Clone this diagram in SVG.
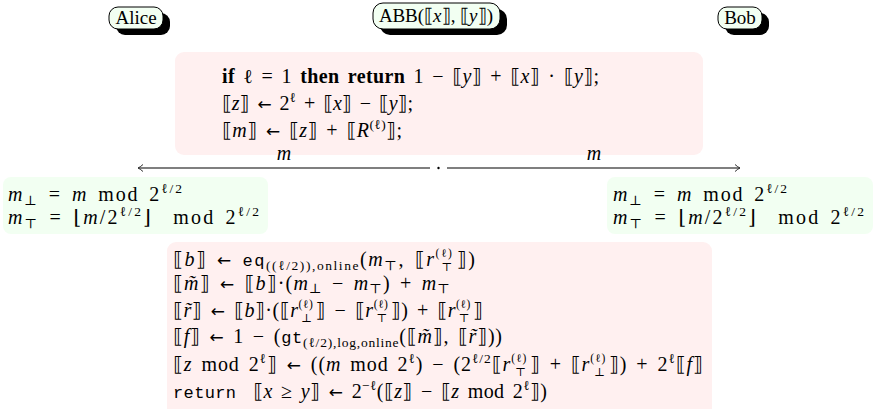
<svg xmlns="http://www.w3.org/2000/svg" width="874" height="409" viewBox="0 0 874 409">
<style>
text{font-family:"Liberation Serif","DejaVu Serif","DejaVu Sans",serif;font-size:20px;fill:#000}
.m{word-spacing:3px}
.i{font-style:italic}
.b{font-weight:bold}
.ar{font-family:"DejaVu Sans",sans-serif;font-size:17px}
.tt{font-family:"Liberation Mono","DejaVu Sans Mono",monospace;font-size:17px}
.s{font-size:13.5px}
.k{font-size:11.5px}
.nl{font-size:19px}
.node{fill:#f2fff2;stroke:#000;stroke-width:1}
.shadow{fill:#000}
.pink{fill:#fff0f0}
.green{fill:#f2fff2}
.conn{stroke:#555;stroke-width:1.4;fill:none}
.lbl{text-anchor:middle}
</style>
<defs>
<marker id="ah" markerWidth="10" markerHeight="10" refX="8" refY="5" orient="auto-start-reverse" markerUnits="userSpaceOnUse">
<path d="M3 1.5 Q6 4.2 8 5 Q6 5.8 3 8.5" fill="none" stroke="#333" stroke-width="1"/>
</marker>
</defs>

<g id="node-alice">
<rect class="shadow" x="116" y="13" width="54" height="22" rx="9"/>
<rect class="node" x="109" y="7" width="54" height="22" rx="9"/>
<text class="lbl nl" x="136" y="24">Alice</text>
</g>
<g id="node-abb">
<rect class="shadow" x="380" y="9" width="127" height="26" rx="10"/>
<rect class="node" x="373" y="3" width="127" height="26" rx="10"/>
<text class="lbl nl" x="436" y="22" textLength="114" lengthAdjust="spacing">ABB(⟦<tspan class="i">x</tspan>⟧, ⟦<tspan class="i">y</tspan>⟧)</text>
</g>
<g id="node-bob">
<rect class="shadow" x="725" y="13" width="44" height="22" rx="9"/>
<rect class="node" x="718" y="7" width="44" height="22" rx="9"/>
<text class="lbl nl" x="740" y="24">Bob</text>
</g>

<g id="abb-setup">
<rect class="pink" x="175" y="52" width="528" height="103" rx="9"/>
<text class="m" x="222" y="83" textLength="377" lengthAdjust="spacing"><tspan class="b">if</tspan> ℓ = 1 <tspan class="b">then return</tspan> 1 − ⟦<tspan class="i">y</tspan>⟧ + ⟦<tspan class="i">x</tspan>⟧ · ⟦<tspan class="i">y</tspan>⟧;</text>
<text class="m" x="222" y="110" textLength="191" lengthAdjust="spacing">⟦<tspan class="i">z</tspan>⟧ <tspan class="ar">←</tspan> 2<tspan class="s" dy="-8">ℓ</tspan><tspan dy="8"> + ⟦</tspan><tspan class="i">x</tspan>⟧ − ⟦<tspan class="i">y</tspan>⟧;</text>
<text class="m" x="222" y="137" textLength="180" lengthAdjust="spacing">⟦<tspan class="i">m</tspan>⟧ <tspan class="ar">←</tspan> ⟦<tspan class="i">z</tspan>⟧ + ⟦<tspan class="i">R</tspan><tspan class="s" dy="-8">(ℓ)</tspan><tspan dy="8">⟧;</tspan></text>
</g>

<g id="connectors">
<line class="conn" x1="430" y1="168" x2="138" y2="168" marker-end="url(#ah)"/>
<line class="conn" x1="447" y1="168" x2="740" y2="168" marker-end="url(#ah)"/>
<circle cx="438.5" cy="168" r="1.2" fill="#000"/>
<text class="lbl i" x="284" y="160">m</text>
<text class="lbl i" x="594" y="160">m</text>
</g>

<g id="alice-local">
<rect class="green" x="3" y="177" width="265" height="57" rx="8"/>
<text class="m" x="8" y="201" textLength="174" lengthAdjust="spacing"><tspan class="i">m</tspan><tspan class="s" dy="4">⊥</tspan><tspan dy="-4"> = </tspan><tspan class="i">m</tspan> mod 2<tspan class="s" dy="-8">ℓ/2</tspan></text>
<text class="m" x="8" y="224" xml:space="preserve" textLength="251" lengthAdjust="spacing"><tspan class="i">m</tspan><tspan class="s" dy="4">⊤</tspan><tspan dy="-4"> = ⌊</tspan><tspan class="i">m</tspan>/2<tspan class="s" dy="-8">ℓ/2</tspan><tspan dy="8">⌋  mod 2</tspan><tspan class="s" dy="-8">ℓ/2</tspan></text>
</g>

<g id="bob-local">
<rect class="green" x="607" y="177" width="266" height="57" rx="8"/>
<text class="m" x="613" y="201" textLength="174" lengthAdjust="spacing"><tspan class="i">m</tspan><tspan class="s" dy="4">⊥</tspan><tspan dy="-4"> = </tspan><tspan class="i">m</tspan> mod 2<tspan class="s" dy="-8">ℓ/2</tspan></text>
<text class="m" x="613" y="224" xml:space="preserve" textLength="251" lengthAdjust="spacing"><tspan class="i">m</tspan><tspan class="s" dy="4">⊤</tspan><tspan dy="-4"> = ⌊</tspan><tspan class="i">m</tspan>/2<tspan class="s" dy="-8">ℓ/2</tspan><tspan dy="8">⌋  mod 2</tspan><tspan class="s" dy="-8">ℓ/2</tspan></text>
</g>

<g id="abb-compare">
<rect class="pink" x="167" y="242" width="545" height="180" rx="9"/>
<text class="m" x="173" y="266" textLength="302" lengthAdjust="spacing">⟦<tspan class="i">b</tspan>⟧ <tspan class="ar">←</tspan> <tspan class="tt">eq</tspan><tspan class="s" dy="4">((ℓ/2)),online</tspan><tspan dy="-4">(</tspan><tspan class="i">m</tspan><tspan class="s" dy="4">⊤</tspan><tspan dy="-4">, ⟦</tspan><tspan class="i">r</tspan><tspan class="k" dy="-9">(ℓ)</tspan><tspan class="k" dx="-12" dy="14">⊤</tspan><tspan dx="3" dy="-5">⟧)</tspan></text>
<text class="m" x="173" y="290" textLength="277" lengthAdjust="spacing">⟦<tspan class="i">m̃</tspan>⟧ <tspan class="ar">←</tspan> ⟦<tspan class="i">b</tspan>⟧·(<tspan class="i">m</tspan><tspan class="s" dy="3">⊥</tspan><tspan dy="-3"> − </tspan><tspan class="i">m</tspan><tspan class="s" dy="3">⊤</tspan><tspan dy="-3">) + </tspan><tspan class="i">m</tspan><tspan class="s" dy="3">⊤</tspan></text>
<text class="m" x="173" y="317" textLength="310" lengthAdjust="spacing">⟦<tspan class="i">r̃</tspan>⟧ <tspan class="ar">←</tspan> ⟦<tspan class="i">b</tspan>⟧·(⟦<tspan class="i">r</tspan><tspan class="k" dy="-9">(ℓ)</tspan><tspan class="k" dx="-12" dy="14">⊥</tspan><tspan dx="3" dy="-5">⟧ − ⟦</tspan><tspan class="i">r</tspan><tspan class="k" dy="-9">(ℓ)</tspan><tspan class="k" dx="-12" dy="14">⊤</tspan><tspan dx="3" dy="-5">⟧) + ⟦</tspan><tspan class="i">r</tspan><tspan class="k" dy="-9">(ℓ)</tspan><tspan class="k" dx="-12" dy="14">⊤</tspan><tspan dx="3" dy="-5">⟧</tspan></text>
<text class="m" x="173" y="343" textLength="329" lengthAdjust="spacing">⟦<tspan class="i">f</tspan>⟧ <tspan class="ar">←</tspan> 1 − (<tspan class="tt">gt</tspan><tspan class="s" dy="4">(ℓ/2),log,online</tspan><tspan dy="-4">(⟦</tspan><tspan class="i">m̃</tspan>⟧, ⟦<tspan class="i">r̃</tspan>⟧))</text>
<text class="m" x="173" y="371" textLength="530" lengthAdjust="spacing">⟦<tspan class="i">z</tspan> mod 2<tspan class="s" dy="-8">ℓ</tspan><tspan dy="8">⟧ </tspan><tspan class="ar">←</tspan> ((<tspan class="i">m</tspan> mod 2<tspan class="s" dy="-8">ℓ</tspan><tspan dy="8">) − (2</tspan><tspan class="s" dy="-8">ℓ/2</tspan><tspan dy="8">⟦</tspan><tspan class="i">r</tspan><tspan class="k" dy="-9">(ℓ)</tspan><tspan class="k" dx="-12" dy="14">⊤</tspan><tspan dx="3" dy="-5">⟧ + ⟦</tspan><tspan class="i">r</tspan><tspan class="k" dy="-9">(ℓ)</tspan><tspan class="k" dx="-12" dy="14">⊥</tspan><tspan dx="3" dy="-5">⟧) + 2</tspan><tspan class="s" dy="-8">ℓ</tspan><tspan dy="8">⟦</tspan><tspan class="i">f</tspan>⟧</text>
<text class="m" x="173" y="398" xml:space="preserve" textLength="374" lengthAdjust="spacing"><tspan class="tt">return</tspan>  ⟦<tspan class="i">x</tspan> ≥ <tspan class="i">y</tspan>⟧ <tspan class="ar">←</tspan> 2<tspan class="s" dy="-8">−ℓ</tspan><tspan dy="8">(⟦</tspan><tspan class="i">z</tspan>⟧ − ⟦<tspan class="i">z</tspan> mod 2<tspan class="s" dy="-8">ℓ</tspan><tspan dy="8">⟧)</tspan></text>
</g>
</svg>
